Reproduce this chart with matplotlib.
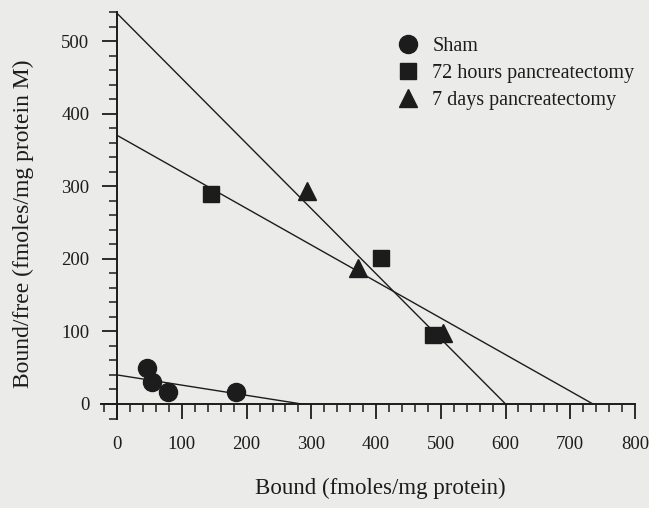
import matplotlib
matplotlib.use("Agg")
import matplotlib.pyplot as plt
from matplotlib.ticker import MultipleLocator

# ---- data ----
sham_x = [46, 54, 79, 184]
sham_y = [50, 30, 16, 16]
h72_x = [145, 407, 488]
h72_y = [289, 201, 95]
d7_x = [294, 372, 503]
d7_y = [293, 188, 98]

# fitted lines: (y intercept, x intercept)
line_y0 = [40, 370, 538]
line_x0 = [285, 735, 600]

labels = ["Sham", "72 hours pancreatectomy", "7 days pancreatectomy"]

ink = "#1c1c1c"
bg = "#ebebea"
plt.rcParams["font.family"] = ["Liberation Serif", "DejaVu Serif"]

fig = plt.figure(figsize=(6.49, 5.08), dpi=100, facecolor=bg)
ax = fig.add_axes([101 / 649, 1 - 418.5 / 508, 534 / 649, 406.5 / 508])
ax.set_facecolor(bg)

for y0, x0 in zip(line_y0, line_x0):
    ax.plot([0, x0], [y0, 0], color=ink, lw=1.0, zorder=2)

ms = 13
h1, = ax.plot(sham_x, sham_y, "o", ms=ms, color=ink, ls="none", zorder=3)
h2, = ax.plot(h72_x, h72_y, "s", ms=ms - 1, color=ink, ls="none", zorder=3)
h3, = ax.plot(d7_x, d7_y, "^", ms=ms, color=ink, ls="none", zorder=3)

ax.set_xlim(-25, 800)
ax.set_ylim(-20, 540)
for side in ["top", "right"]:
    ax.spines[side].set_visible(False)
ax.spines["left"].set_position(("data", 0))
ax.spines["bottom"].set_position(("data", 0))
for side in ["left", "bottom"]:
    ax.spines[side].set_linewidth(1.4)
    ax.spines[side].set_color(ink)

ax.set_xticks(range(0, 801, 100))
ax.set_yticks(range(0, 501, 100))
ax.xaxis.set_minor_locator(MultipleLocator(20))
ax.yaxis.set_minor_locator(MultipleLocator(20))
ax.tick_params(which="major", direction="out", length=11, width=1.3, color=ink,
               labelsize=13.5, labelcolor=ink)
ax.tick_params(which="minor", direction="out", length=6, width=1.1, color=ink)
ax.tick_params(axis="x", which="major", pad=12)
ax.tick_params(axis="y", which="major", pad=9)

fig.text(380 / 649, 1 - 488 / 508, "Bound (fmoles/mg protein)", ha="center", va="center",
         fontsize=16.5, color=ink)
fig.text(23 / 649, 1 - 224 / 508, "Bound/free (fmoles/mg protein M)", ha="center", va="center",
         rotation=90, fontsize=17, color=ink)

fig.legend([h1, h2, h3], labels, loc="upper left", bbox_to_anchor=(399 / 649, 1 - 37 / 508),
           frameon=False, fontsize=14.5, handlelength=0.9, handletextpad=0.75,
           labelspacing=0.4, borderpad=0, borderaxespad=0, labelcolor=ink)

fig.savefig("out.png", dpi=100, facecolor=bg)
